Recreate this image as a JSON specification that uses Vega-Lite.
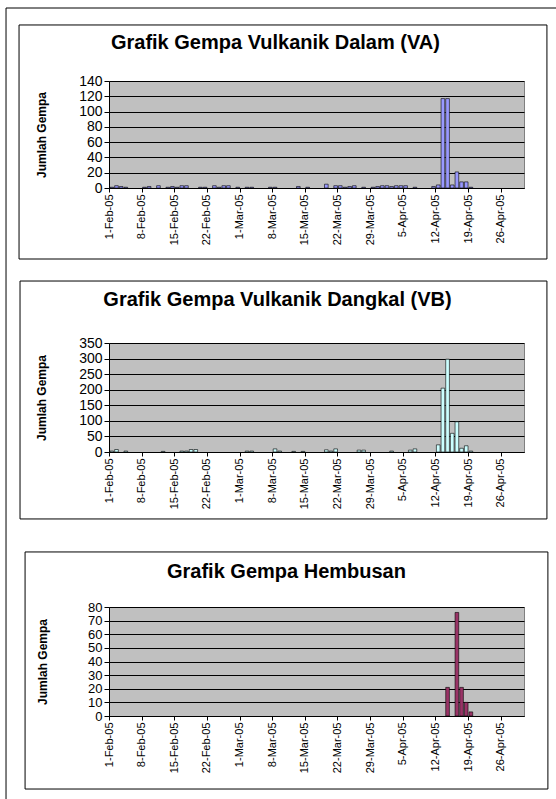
{
  "$schema": "https://vega.github.io/schema/vega-lite/v6.json",
  "padding": {"left": 5, "top": 7, "right": 0, "bottom": 0},
  "background": "white",
  "bounds": "flush",
  "spacing": 155,
  "datasets": {
    "va": [
      {"date": "2005/02/01", "n": 1}, {"date": "2005/02/02", "n": 3}, {"date": "2005/02/03", "n": 2}, {"date": "2005/02/04", "n": 1},
      {"date": "2005/02/08", "n": 1}, {"date": "2005/02/09", "n": 2}, {"date": "2005/02/11", "n": 3}, {"date": "2005/02/13", "n": 1},
      {"date": "2005/02/14", "n": 2}, {"date": "2005/02/15", "n": 1}, {"date": "2005/02/16", "n": 3}, {"date": "2005/02/17", "n": 3},
      {"date": "2005/02/20", "n": 1}, {"date": "2005/02/21", "n": 1}, {"date": "2005/02/23", "n": 3}, {"date": "2005/02/24", "n": 1},
      {"date": "2005/02/25", "n": 3}, {"date": "2005/02/26", "n": 3}, {"date": "2005/02/28", "n": 1}, {"date": "2005/03/02", "n": 1},
      {"date": "2005/03/03", "n": 1}, {"date": "2005/03/07", "n": 1}, {"date": "2005/03/08", "n": 1}, {"date": "2005/03/13", "n": 2},
      {"date": "2005/03/15", "n": 1}, {"date": "2005/03/19", "n": 5}, {"date": "2005/03/21", "n": 3}, {"date": "2005/03/22", "n": 3},
      {"date": "2005/03/23", "n": 1}, {"date": "2005/03/24", "n": 2}, {"date": "2005/03/25", "n": 3}, {"date": "2005/03/27", "n": 1},
      {"date": "2005/03/29", "n": 1}, {"date": "2005/03/30", "n": 2}, {"date": "2005/03/31", "n": 3}, {"date": "2005/04/01", "n": 3},
      {"date": "2005/04/02", "n": 2}, {"date": "2005/04/03", "n": 3}, {"date": "2005/04/04", "n": 3}, {"date": "2005/04/05", "n": 3},
      {"date": "2005/04/07", "n": 1}, {"date": "2005/04/11", "n": 2}, {"date": "2005/04/12", "n": 4}, {"date": "2005/04/13", "n": 117},
      {"date": "2005/04/14", "n": 117}, {"date": "2005/04/15", "n": 4}, {"date": "2005/04/16", "n": 21}, {"date": "2005/04/17", "n": 8},
      {"date": "2005/04/18", "n": 8}, {"date": "2005/04/19", "n": 1}
    ],
    "vb": [
      {"date": "2005/02/01", "n": 3}, {"date": "2005/02/02", "n": 8}, {"date": "2005/02/04", "n": 3}, {"date": "2005/02/12", "n": 2},
      {"date": "2005/02/16", "n": 3}, {"date": "2005/02/17", "n": 3}, {"date": "2005/02/18", "n": 8}, {"date": "2005/02/19", "n": 8},
      {"date": "2005/03/02", "n": 3}, {"date": "2005/03/03", "n": 3}, {"date": "2005/03/08", "n": 10}, {"date": "2005/03/09", "n": 3},
      {"date": "2005/03/12", "n": 2}, {"date": "2005/03/14", "n": 2}, {"date": "2005/03/19", "n": 7}, {"date": "2005/03/20", "n": 3},
      {"date": "2005/03/21", "n": 10}, {"date": "2005/03/26", "n": 6}, {"date": "2005/03/27", "n": 6}, {"date": "2005/04/02", "n": 3},
      {"date": "2005/04/06", "n": 6}, {"date": "2005/04/07", "n": 10}, {"date": "2005/04/12", "n": 23}, {"date": "2005/04/13", "n": 205},
      {"date": "2005/04/14", "n": 298}, {"date": "2005/04/15", "n": 60}, {"date": "2005/04/16", "n": 97}, {"date": "2005/04/17", "n": 12},
      {"date": "2005/04/18", "n": 20}, {"date": "2005/04/19", "n": 3}
    ],
    "hb": [
      {"date": "2005/04/14", "n": 21}, {"date": "2005/04/16", "n": 76}, {"date": "2005/04/17", "n": 21},
      {"date": "2005/04/18", "n": 10}, {"date": "2005/04/19", "n": 3}
    ]
  },
  "config": {
    "font": "Liberation Sans",
    "view": {"fill": "#c0c0c0", "stroke": "#808080", "strokeWidth": 1},
    "title": {"fontSize": 20, "fontWeight": "bold", "color": "#000000", "anchor": "middle", "frame": "bounds", "baseline": "alphabetic", "font": "Liberation Sans"},
    "axis": {"domainColor": "#000000", "tickColor": "#000000", "labelColor": "#000000", "titleColor": "#000000", "labelFont": "Liberation Sans", "titleFont": "Liberation Sans"},
    "axisX": {"grid": false, "labelAngle": 270, "labelFontSize": 11, "tickSize": 4, "labelPadding": 2, "labelOverlap": false, "labelFlush": false},
    "axisY": {"grid": true, "gridColor": "#000000", "gridOpacity": 1, "gridWidth": 1, "labelFontSize": 14, "tickSize": 5, "labelPadding": 2, "titleFontSize": 12, "titleFontWeight": "bold", "labelOverlap": false, "labelFlush": false}
  },
  "vconcat": [
    {
      "width": 415, "height": 107,
      "title": {"text": "Grafik Gempa Vulkanik Dalam (VA)", "offset": -45, "dx": -6},
      "resolve": {"axis": {"x": "independent", "y": "independent"}},
      "layer": [
        {
          "data": {"name": "va"},
          "mark": {"type": "bar", "fill": "#9999ff", "stroke": "#000000", "strokeWidth": 0.6, "timeUnitBandSize": 0.65, "timeUnitBandPosition": 0.5},
          "encoding": {
            "x": {"field": "date", "timeUnit": "yearmonthdate", "type": "temporal",
                  "scale": {"domain": [{"year": 2005, "month": 2, "date": 1}, {"year": 2005, "month": 5, "date": 1}], "nice": false},
                  "axis": {"title": null, "format": "%-d-%b-%y", "labelOverlap": false, "labelFlush": false, "values": [
                    {"year": 2005, "month": 2, "date": 1}, {"year": 2005, "month": 2, "date": 8}, {"year": 2005, "month": 2, "date": 15}, {"year": 2005, "month": 2, "date": 22},
                    {"year": 2005, "month": 3, "date": 1}, {"year": 2005, "month": 3, "date": 8}, {"year": 2005, "month": 3, "date": 15}, {"year": 2005, "month": 3, "date": 22},
                    {"year": 2005, "month": 3, "date": 29}, {"year": 2005, "month": 4, "date": 5}, {"year": 2005, "month": 4, "date": 12}, {"year": 2005, "month": 4, "date": 19},
                    {"year": 2005, "month": 4, "date": 26}]}},
            "y": {"field": "n", "type": "quantitative",
                  "scale": {"domain": [0, 140], "nice": false},
                  "axis": {"title": "Jumlah Gempa", "titlePadding": 30, "labelOverlap": false, "labelFlush": false, "values": [0, 20, 40, 60, 80, 100, 120, 140]}}
          }
        },
        {
          "data": {"values": [{}]},
          "mark": {"type": "rect", "filled": false, "stroke": "#000000", "strokeWidth": 1, "clip": false},
          "encoding": {
            "x": {"datum": {"year": 2005, "month": 1, "date": 12, "hours": 17}, "type": "temporal", "axis": null},
            "x2": {"datum": {"year": 2005, "month": 5, "date": 5, "hours": 22}},
            "y": {"datum": 213.3, "type": "quantitative", "axis": null},
            "y2": {"datum": -92.9}
          }
        },
        {
          "data": {"values": [{}]},
          "mark": {"type": "rule", "stroke": "#000000", "strokeWidth": 1, "clip": false},
          "encoding": {
            "x": {"datum": {"year": 2005, "month": 1, "date": 9, "hours": 22}, "type": "temporal", "axis": null},
            "x2": {"datum": {"year": 2005, "month": 5, "date": 8, "hours": 1}},
            "y": {"datum": 235.5, "type": "quantitative", "axis": null}
          }
        },
        {
          "data": {"values": [{}]},
          "mark": {"type": "rule", "stroke": "#000000", "strokeWidth": 1, "clip": false},
          "encoding": {
            "x": {"datum": {"year": 2005, "month": 1, "date": 9, "hours": 22}, "type": "temporal", "axis": null},
            "y": {"datum": 235.5, "type": "quantitative", "axis": null},
            "y2": {"datum": -800}
          }
        }
      ]
    },
    {
      "width": 415, "height": 109,
      "title": {"text": "Grafik Gempa Vulkanik Dangkal (VB)", "offset": -29, "dx": -6},
      "resolve": {"axis": {"x": "independent", "y": "independent"}},
      "layer": [
        {
          "data": {"name": "vb"},
          "mark": {"type": "bar", "fill": "#ccffff", "stroke": "#000000", "strokeWidth": 0.6, "timeUnitBandSize": 0.65, "timeUnitBandPosition": 0.5},
          "encoding": {
            "x": {"field": "date", "timeUnit": "yearmonthdate", "type": "temporal",
                  "scale": {"domain": [{"year": 2005, "month": 2, "date": 1}, {"year": 2005, "month": 5, "date": 1}], "nice": false},
                  "axis": {"title": null, "format": "%-d-%b-%y", "labelOverlap": false, "labelFlush": false, "values": [
                    {"year": 2005, "month": 2, "date": 1}, {"year": 2005, "month": 2, "date": 8}, {"year": 2005, "month": 2, "date": 15}, {"year": 2005, "month": 2, "date": 22},
                    {"year": 2005, "month": 3, "date": 1}, {"year": 2005, "month": 3, "date": 8}, {"year": 2005, "month": 3, "date": 15}, {"year": 2005, "month": 3, "date": 22},
                    {"year": 2005, "month": 3, "date": 29}, {"year": 2005, "month": 4, "date": 5}, {"year": 2005, "month": 4, "date": 12}, {"year": 2005, "month": 4, "date": 19},
                    {"year": 2005, "month": 4, "date": 26}]}},
            "y": {"field": "n", "type": "quantitative",
                  "scale": {"domain": [0, 350], "nice": false},
                  "axis": {"title": "Jumlah Gempa", "titlePadding": 30, "labelOverlap": false, "labelFlush": false, "values": [0, 50, 100, 150, 200, 250, 300, 350]}}
          }
        },
        {
          "data": {"values": [{}]},
          "mark": {"type": "rect", "filled": false, "stroke": "#000000", "strokeWidth": 1, "clip": false},
          "encoding": {
            "x": {"datum": {"year": 2005, "month": 1, "date": 12, "hours": 22}, "type": "temporal", "axis": null},
            "x2": {"datum": {"year": 2005, "month": 5, "date": 5, "hours": 22}},
            "y": {"datum": 549, "type": "quantitative", "axis": null},
            "y2": {"datum": -215}
          }
        }
      ]
    },
    {
      "width": 415, "height": 109,
      "title": {"text": "Grafik Gempa Hembusan", "offset": -31},
      "resolve": {"axis": {"x": "independent", "y": "independent"}},
      "layer": [
        {
          "data": {"name": "hb"},
          "mark": {"type": "bar", "fill": "#993366", "stroke": "#000000", "strokeWidth": 0.6, "timeUnitBandSize": 0.65, "timeUnitBandPosition": 0.5},
          "encoding": {
            "x": {"field": "date", "timeUnit": "yearmonthdate", "type": "temporal",
                  "scale": {"domain": [{"year": 2005, "month": 2, "date": 1}, {"year": 2005, "month": 5, "date": 1}], "nice": false},
                  "axis": {"title": null, "format": "%-d-%b-%y", "labelOverlap": false, "labelFlush": false, "values": [
                    {"year": 2005, "month": 2, "date": 1}, {"year": 2005, "month": 2, "date": 8}, {"year": 2005, "month": 2, "date": 15}, {"year": 2005, "month": 2, "date": 22},
                    {"year": 2005, "month": 3, "date": 1}, {"year": 2005, "month": 3, "date": 8}, {"year": 2005, "month": 3, "date": 15}, {"year": 2005, "month": 3, "date": 22},
                    {"year": 2005, "month": 3, "date": 29}, {"year": 2005, "month": 4, "date": 5}, {"year": 2005, "month": 4, "date": 12}, {"year": 2005, "month": 4, "date": 19},
                    {"year": 2005, "month": 4, "date": 26}]}},
            "y": {"field": "n", "type": "quantitative",
                  "scale": {"domain": [0, 80], "nice": false},
                  "axis": {"title": "Jumlah Gempa", "titlePadding": 38, "labelFontSize": 13, "labelOverlap": false, "labelFlush": false, "values": [0, 10, 20, 30, 40, 50, 60, 70, 80]}}
          }
        },
        {
          "data": {"values": [{}]},
          "mark": {"type": "rect", "filled": false, "stroke": "#000000", "strokeWidth": 1, "clip": false},
          "encoding": {
            "x": {"datum": {"year": 2005, "month": 1, "date": 14}, "type": "temporal", "axis": null},
            "x2": {"datum": {"year": 2005, "month": 5, "date": 6, "hours": 3}},
            "y": {"datum": 120.4, "type": "quantitative", "axis": null},
            "y2": {"datum": -53.6}
          }
        }
      ]
    }
  ]
}
